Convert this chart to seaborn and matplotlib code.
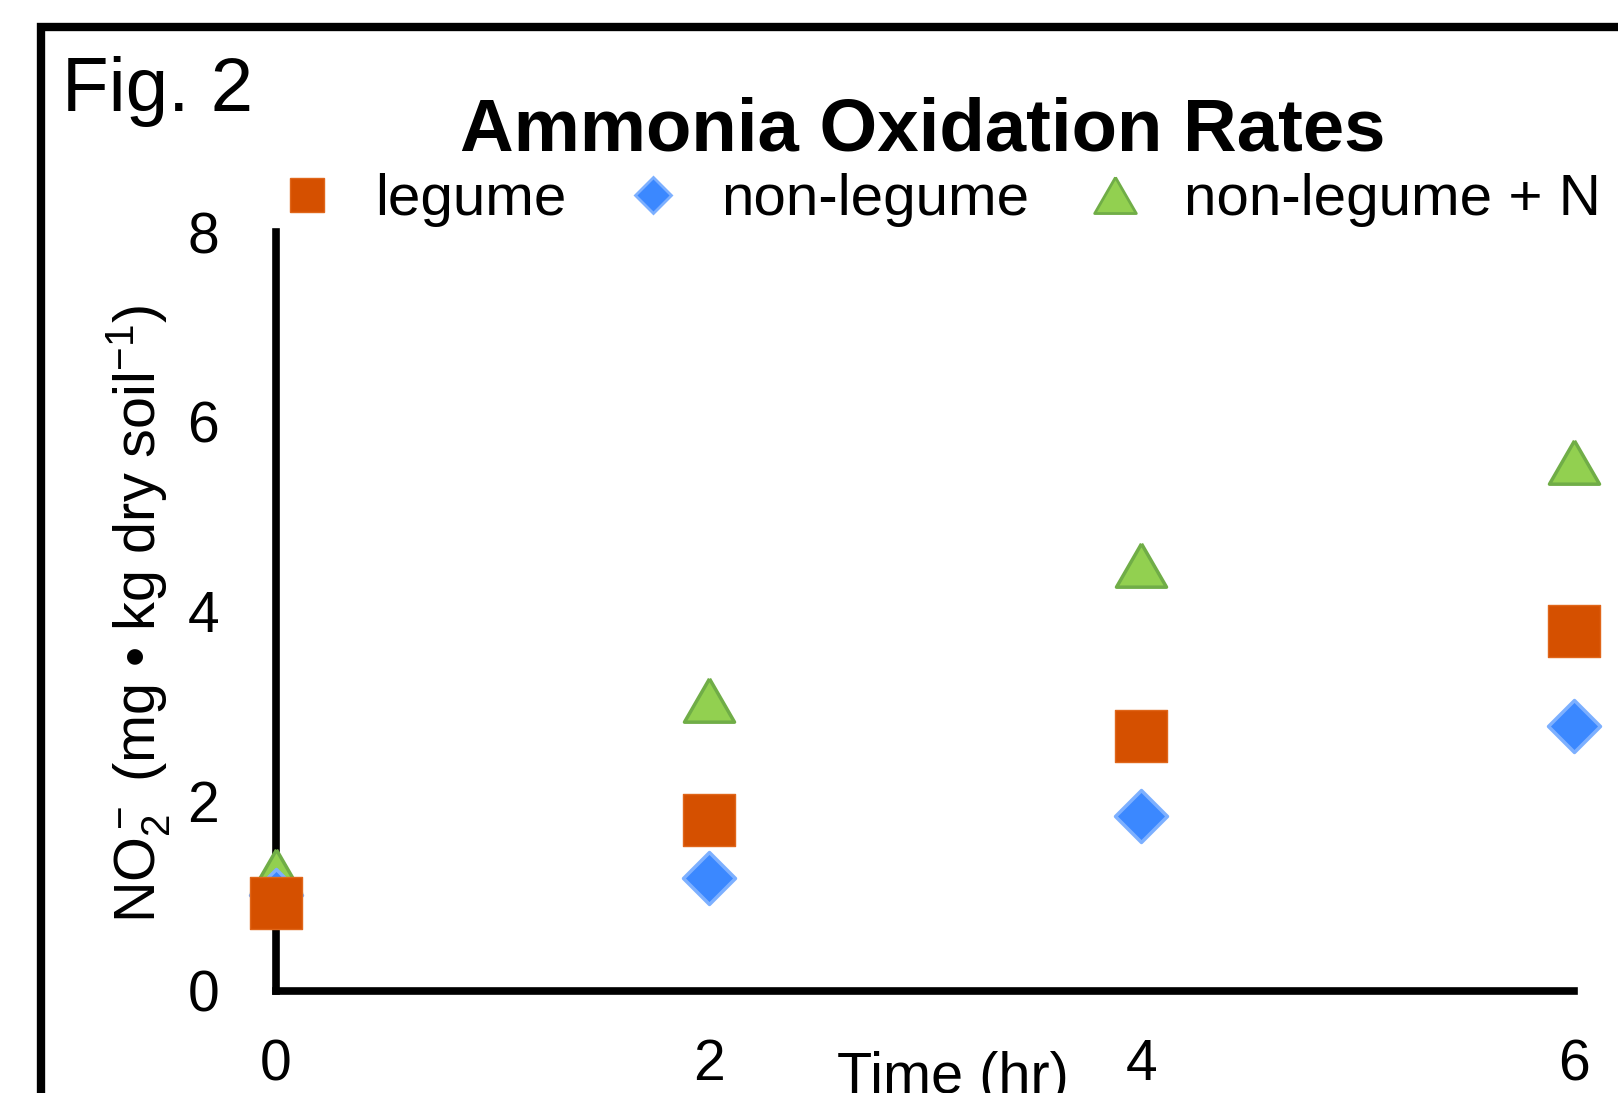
import pandas as pd
import matplotlib
matplotlib.use("Agg")
import matplotlib.pyplot as plt
from matplotlib.lines import Line2D
from matplotlib.patches import Rectangle
from matplotlib.markers import MarkerStyle
import seaborn as sns

# values
time_hr = [0, 2, 4, 6]
legume = [0.93, 1.80, 2.69, 3.79]
non_legume = [1.01, 1.19, 1.84, 2.79]
non_legume_n = [1.27, 3.07, 4.49, 5.58]
x_ticks = [0, 2, 4, 6]
y_ticks = [0, 2, 4, 6, 8]
series_names = ["legume", "non-legume", "non-legume + N"]

df = pd.DataFrame({"time": time_hr, "legume": legume,
                   "non_legume": non_legume, "non_legume_n": non_legume_n})

sns.set_theme(style="white")
plt.rcParams["font.family"] = ["Liberation Sans", "DejaVu Sans"]
plt.rcParams["mathtext.fontset"] = "custom"
plt.rcParams["mathtext.rm"] = "Liberation Sans"
plt.rcParams["mathtext.it"] = "Liberation Sans:italic"
plt.rcParams["mathtext.bf"] = "Liberation Sans:bold"
plt.rcParams.update({"text.color": "black", "axes.labelcolor": "black",
                     "xtick.color": "black", "ytick.color": "black"})

W, H = 1618, 1093
fig = plt.figure(figsize=(W / 100, H / 100), dpi=100)
ax = fig.add_axes([276 / W, 1 - 991 / H, (1574 - 276) / W, (991 - 232) / H])

# equilateral triangle centred on its bounding box
tri = MarkerStyle([(0, 0.433), (-0.5, -0.433), (0.5, -0.433), (0, 0.433)])

orange, orange_edge = "#D55000", "#E0661A"
blue, blue_edge = "#3B88FF", "#7DB0FF"
green, green_edge = "#92D050", "#70AD47"

sns.scatterplot(data=df, x="time", y="non_legume_n", marker=tri, s=1300,
                color=green, edgecolor=green_edge, linewidth=2.5,
                zorder=3, clip_on=False, legend=False, ax=ax)
sns.scatterplot(data=df, x="time", y="non_legume", marker="D", s=700,
                color=blue, edgecolor=blue_edge, linewidth=2.5,
                zorder=4, clip_on=False, legend=False, ax=ax)
sns.scatterplot(data=df, x="time", y="legume", marker="s", s=1369,
                color=orange, edgecolor=orange_edge, linewidth=1,
                zorder=5, clip_on=False, legend=False, ax=ax)

ax.set_xlim(0, 6)
ax.set_ylim(0, 8)
ax.set_xticks(x_ticks)
ax.set_yticks(y_ticks)
ax.tick_params(axis="both", length=0, labelsize=41)
ax.tick_params(axis="x", pad=34)
ax.tick_params(axis="y", pad=41)
ax.set_xlabel("")
ax.set_ylabel("")
for side in ["top", "right"]:
    ax.spines[side].set_visible(False)
for side in ["left", "bottom"]:
    ax.spines[side].set_linewidth(5.5)
    ax.spines[side].set_color("black")
ax.grid(False)

# labels and titles
fig.text(62 / W, 1 - 111 / H, "Fig. 2", fontsize=55, va="baseline", ha="left")
fig.text(923 / W, 1 - 150 / H, "Ammonia Oxidation Rates", fontsize=53.6,
         fontweight="bold", ha="center", va="baseline")
fig.text(953 / W, 0.0, "Time (hr)", fontsize=41.5, ha="center", va="baseline")
fig.text(155 / W, 1 - 614 / H, r"NO$_2^-$ (mg • kg dry soil$^{-1}$)",
         fontsize=41.5, rotation=90, rotation_mode="anchor",
         ha="center", va="baseline")

# legend
handles = [
    Line2D([], [], ls="none", marker="s", ms=25, mfc=orange, mec=orange_edge, mew=1),
    Line2D([], [], ls="none", marker="D", ms=18, mfc=blue, mec=blue_edge, mew=2),
    Line2D([], [], ls="none", marker=tri, ms=30, mfc=green, mec=green_edge, mew=2),
]
fig.legend(handles, series_names, loc="center left",
           bbox_to_anchor=(278 / W, 1 - 200 / H), ncol=3, frameon=False,
           fontsize=42, handlelength=1.0, handletextpad=0.667,
           columnspacing=0.98, borderpad=0, borderaxespad=0)

# outer frame running off the right and bottom edges
fig.add_artist(Rectangle((41 / W, -0.1), 1.2, (1 - 27 / H) + 0.1,
                         transform=fig.transFigure, fill=False,
                         edgecolor="black", linewidth=6, clip_on=False))

fig.savefig("out.png", dpi=100)
